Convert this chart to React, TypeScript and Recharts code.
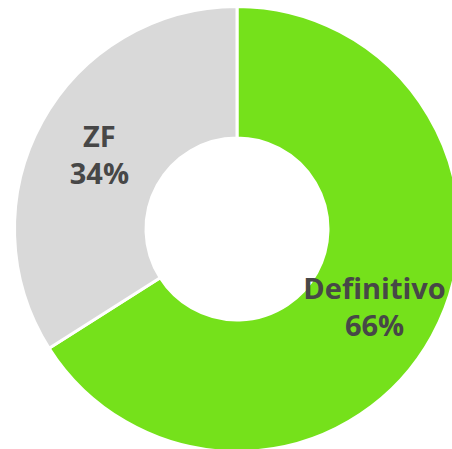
import { PieChart, Pie, Cell } from "recharts";

const labels = ["Definitivo", "ZF"];
const values = [66, 34];
const colors = ["#75E11B", "#D9D9D9"];

const data = labels.map((name, i) => ({ name, value: values[i] }));

const RADIAN = Math.PI / 180;

function renderLabel(props: any) {
  const { cx, cy, midAngle, index } = props;
  const r = 157;
  const x = cx + r * Math.cos(-midAngle * RADIAN);
  const y = cy + r * Math.sin(-midAngle * RADIAN);
  return (
    <text x={x} y={y} textAnchor="middle" fill="#474747" fontSize={29} fontWeight={700} fontFamily="'Open Sans', sans-serif">
      <tspan x={x} dy={-6}>{labels[index]}</tspan>
      <tspan x={x} dy={37}>{values[index]}%</tspan>
    </text>
  );
}

export default function App() {
  return (
    <div style={{ position: "absolute", left: 0, top: 0, width: 452, height: 449, background: "#fff" }}>
      <PieChart width={452} height={449} margin={{ top: 0, right: 0, bottom: 0, left: 0 }}>
        <Pie
          data={data}
          dataKey="value"
          cx={237}
          cy={229}
          innerRadius={91}
          outerRadius={222.5}
          startAngle={90}
          endAngle={-270}
          stroke="#fff"
          strokeWidth={3}
          label={renderLabel}
          labelLine={false}
          isAnimationActive={false}
        >
          {data.map((d, i) => <Cell key={i} fill={colors[i]} />)}
        </Pie>
      </PieChart>
    </div>
  );
}
